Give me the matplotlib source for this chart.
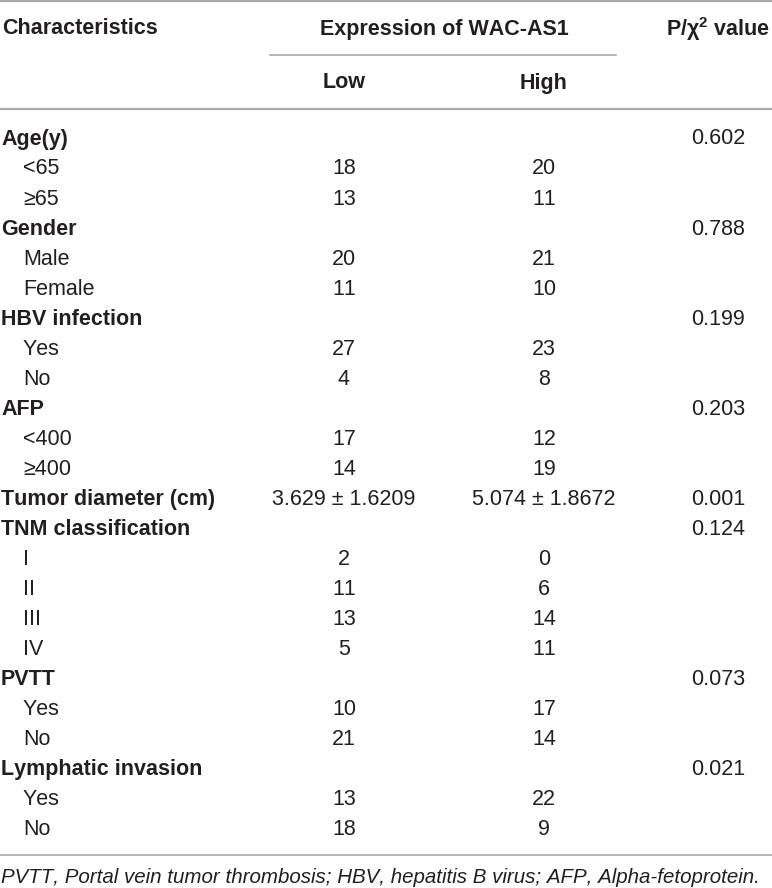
import matplotlib.pyplot as plt

plt.rcParams['font.family'] = ['Liberation Sans', 'DejaVu Sans']
plt.rcParams['mathtext.default'] = 'regular'
plt.rcParams['text.kerning_factor'] = 20  # stop "11" from being squeezed

# table rows: (label, is group heading)
labels = ['Age(y)', '<65', '≥65',
          'Gender', 'Male', 'Female',
          'HBV infection', 'Yes', 'No',
          'AFP', '<400', '≥400',
          'Tumor diameter (cm)',
          'TNM classification', 'I', 'II', 'III', 'IV',
          'PVTT', 'Yes', 'No',
          'Lymphatic invasion', 'Yes', 'No']
is_group = [True, False, False,
            True, False, False,
            True, False, False,
            True, False, False,
            True,
            True, False, False, False, False,
            True, False, False,
            True, False, False]
low = ['', '18', '13', '', '20', '11', '', '27', '4', '', '17', '14',
       '3.629 ± 1.6209', '', '2', '11', '13', '5', '', '10', '21', '', '13', '18']
high = ['', '20', '11', '', '21', '10', '', '23', '8', '', '12', '19',
        '5.074 ± 1.8672', '', '0', '6', '14', '11', '', '17', '14', '', '22', '9']
pval = ['0.602', '', '', '0.788', '', '', '0.199', '', '', '0.203', '', '',
        '0.001', '0.124', '', '', '', '', '0.073', '', '', '0.021', '', '']

footnote = 'PVTT, Portal vein tumor thrombosis; HBV, hepatitis B virus; AFP, Alpha-fetoprotein.'

W, H = 772, 888
fig = plt.figure(figsize=(W / 100, H / 100), dpi=100)
ax = fig.add_axes([0, 0, 1, 1])
ax.set_xlim(0, W)
ax.set_ylim(H, 0)
ax.axis('off')

txt = '#231f20'
rule = '#a7a9ac'
fs = 15.5

x_low, x_high, x_p = 344, 544, 718

# rules
ax.plot([0, W], [1.5, 1.5], color=rule, lw=1.6)
ax.plot([270, 616], [55, 55], color=rule, lw=1.2)
ax.plot([0, W], [109, 109], color=rule, lw=1.6)
ax.plot([0, W], [855, 855], color=rule, lw=1.2)

# header
ax.text(2, 29, 'Characteristics', fontsize=fs, fontweight='bold', color=txt, va='center')
ax.text(444, 29, 'Expression of WAC-AS1', fontsize=fs, fontweight='bold', color=txt,
        va='center', ha='center')
ax.text(770, 29, r'P/χ$^{2}$ value', fontsize=fs, fontweight='bold', color=txt,
        va='center', ha='right')
ax.text(x_low, 83, 'Low', fontsize=fs, fontweight='bold', color=txt, va='center', ha='center')
ax.text(x_high, 83, 'High', fontsize=fs, fontweight='bold', color=txt, va='center', ha='center')

# body
y0, dy = 139, 30
for i, lab in enumerate(labels):
    y = y0 + dy * i
    if is_group[i]:
        ax.text(1, y, lab, fontsize=fs, fontweight='bold', color=txt, va='center')
    else:
        ax.text(23, y, lab, fontsize=fs, color=txt, va='center')
    ax.text(x_low, y, low[i], fontsize=fs, color=txt, va='center', ha='center')
    ax.text(x_high, y, high[i], fontsize=fs, color=txt, va='center', ha='center')
    ax.text(x_p, y, pval[i], fontsize=fs, color=txt, va='center', ha='center')

ax.text(1, 877, footnote, fontsize=14.8, style='italic', color=txt, va='center')

fig.savefig('out.png', dpi=100)
